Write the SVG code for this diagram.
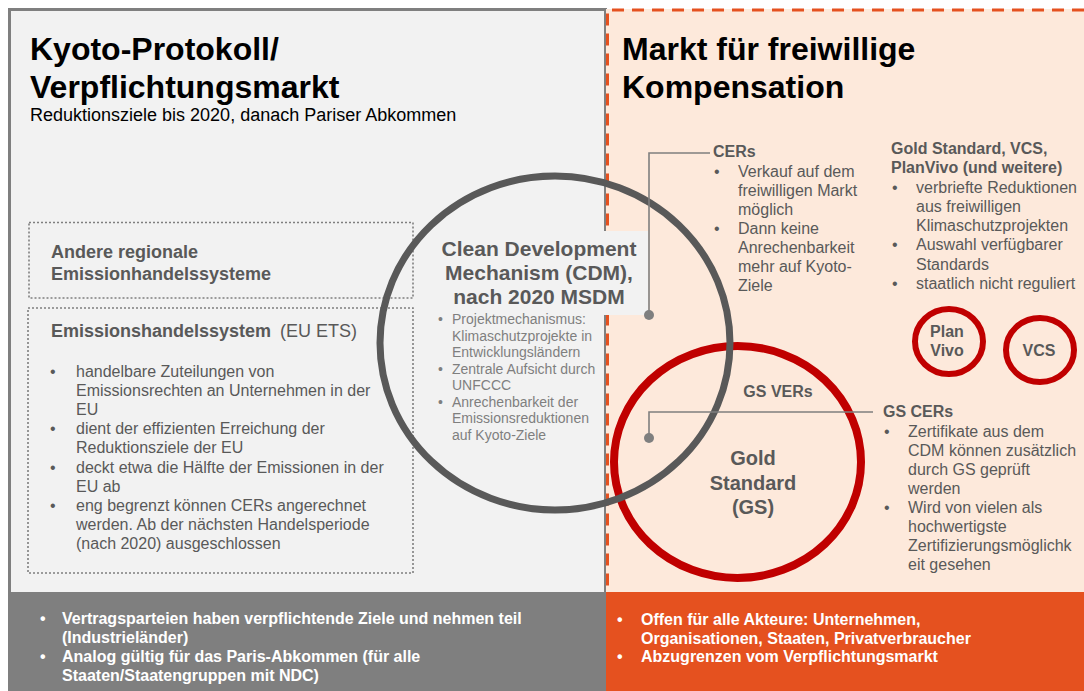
<svg xmlns="http://www.w3.org/2000/svg" width="1084" height="691" viewBox="0 0 1084 691">
  <style>
    text { font-family: "Liberation Sans", Arial, sans-serif; }
    .title { font-size: 32px; font-weight: bold; fill: #000; }
    .sub { font-size: 18px; fill: #000; }
    .boxhead { font-size: 18px; font-weight: bold; fill: #595959; }
    .body { font-size: 16px; fill: #595959; }
    .bold16 { font-size: 16px; font-weight: bold; fill: #595959; }
    .small { font-size: 14px; fill: #7f7f7f; }
    .cdm { font-size: 21px; font-weight: bold; fill: #595959; }
    .gs { font-size: 20px; font-weight: bold; fill: #595959; }
    .band { font-size: 16px; font-weight: bold; fill: #fff; }
    .dotted { fill: none; stroke: #7f7f7f; stroke-width: 1.6; stroke-dasharray: 2 2; }
    .lead { fill: none; stroke: #7f7f7f; stroke-width: 1.6; }
    .redring { fill: none; stroke: #c00000; }
  </style>

  <!-- Panel backgrounds -->
  <g id="panel-left">
    <rect x="9.5" y="9.5" width="596" height="584" fill="#f2f2f2" stroke="#7f7f7f" stroke-width="3"/>
  </g>
  <g id="panel-right">
    <rect x="606" y="9" width="478" height="584" fill="#fde9db"/>
    <path d="M1084 10 H607.5 V592" fill="none" stroke="#e5511f" stroke-width="3" stroke-dasharray="12 8"/>
  </g>

  <!-- Headings -->
  <g id="heading-left">
    <text class="title" x="30" y="60">Kyoto-Protokoll/</text>
    <text class="title" x="30" y="98">Verpflichtungsmarkt</text>
    <text class="sub" x="30" y="121">Reduktionsziele bis 2020, danach Pariser Abkommen</text>
  </g>
  <g id="heading-right">
    <text class="title" x="622" y="60">Markt für freiwillige</text>
    <text class="title" x="622" y="98">Kompensation</text>
  </g>

  <!-- Regional trading systems -->
  <g id="box-regional">
    <rect class="dotted" x="29" y="222.5" width="384" height="75.5"/>
    <text class="boxhead" x="51" y="258">Andere regionale</text>
    <text class="boxhead" x="51" y="280">Emissionhandelssysteme</text>
  </g>

  <!-- EU ETS -->
  <g id="box-euets">
    <rect class="dotted" x="28" y="308" width="385" height="265"/>
    <text class="boxhead" x="51" y="337">Emissionshandelssystem<tspan font-weight="normal" dx="4"> (EU ETS)</tspan></text>
    <g class="body">
      <text x="50" y="376.5">•</text>
      <text x="76" y="376.5">handelbare Zuteilungen von</text>
      <text x="76" y="395.7">Emissionsrechten an Unternehmen in der</text>
      <text x="76" y="414.9">EU</text>
      <text x="50" y="434.1">•</text>
      <text x="76" y="434.1">dient der effizienten Erreichung der</text>
      <text x="76" y="453.3">Reduktionsziele der EU</text>
      <text x="50" y="472.5">•</text>
      <text x="76" y="472.5">deckt etwa die Hälfte der Emissionen in der</text>
      <text x="76" y="491.7">EU ab</text>
      <text x="50" y="510.9">•</text>
      <text x="76" y="510.9">eng begrenzt können CERs angerechnet</text>
      <text x="76" y="530.1">werden. Ab der nächsten Handelsperiode</text>
      <text x="76" y="549.3">(nach 2020) ausgeschlossen</text>
    </g>
  </g>

  <!-- Gold Standard ring -->
  <g id="ring-gs">
    <ellipse class="redring" cx="737.5" cy="462" rx="123.5" ry="116" stroke-width="8"/>
    <text class="gs" x="753" y="465" text-anchor="middle">Gold</text>
    <text class="gs" x="753" y="490" text-anchor="middle">Standard</text>
    <text class="gs" x="753" y="514" text-anchor="middle">(GS)</text>
    <text class="bold16" x="778" y="397" text-anchor="middle">GS VERs</text>
  </g>

  <!-- CDM ring -->
  <g id="ring-cdm">
    <ellipse cx="555" cy="343" rx="175" ry="167" fill="none" stroke="#595959" stroke-width="7"/>
    <rect x="437" y="231" width="211" height="84" fill="#f2f2f2"/>
    <text class="cdm" x="539" y="256" text-anchor="middle">Clean Development</text>
    <text class="cdm" x="539" y="280" text-anchor="middle">Mechanism (CDM),</text>
    <text class="cdm" x="539" y="304" text-anchor="middle">nach 2020 MSDM</text>
    <g class="small">
      <text x="438" y="324">•</text>
      <text x="452" y="324">Projektmechanismus:</text>
      <text x="452" y="340.5">Klimaschutzprojekte in</text>
      <text x="452" y="357">Entwicklungsländern</text>
      <text x="438" y="373.5">•</text>
      <text x="452" y="373.5">Zentrale Aufsicht durch</text>
      <text x="452" y="390">UNFCCC</text>
      <text x="438" y="406.5">•</text>
      <text x="452" y="406.5">Anrechenbarkeit der</text>
      <text x="452" y="423">Emissionsreduktionen</text>
      <text x="452" y="439.5">auf Kyoto-Ziele</text>
    </g>
  </g>

  <!-- Plan Vivo and VCS rings -->
  <g id="ring-planvivo">
    <ellipse class="redring" cx="949" cy="341.5" rx="34" ry="32.5" stroke-width="6"/>
    <text class="bold16" x="947" y="337" text-anchor="middle">Plan</text>
    <text class="bold16" x="947" y="356" text-anchor="middle">Vivo</text>
  </g>
  <g id="ring-vcs">
    <ellipse class="redring" cx="1040" cy="350" rx="34" ry="32" stroke-width="6"/>
    <text class="bold16" x="1039" y="356" text-anchor="middle">VCS</text>
  </g>

  <!-- Voluntary market notes -->
  <g id="note-cers">
    <text class="bold16" x="713" y="157">CERs</text>
    <g class="body">
      <text x="714" y="177">•</text>
      <text x="738" y="177">Verkauf auf dem</text>
      <text x="738" y="196">freiwilligen Markt</text>
      <text x="738" y="215">möglich</text>
      <text x="714" y="234">•</text>
      <text x="738" y="234">Dann keine</text>
      <text x="738" y="253">Anrechenbarkeit</text>
      <text x="738" y="272">mehr auf Kyoto-</text>
      <text x="738" y="291">Ziele</text>
    </g>
  </g>
  <g id="note-standards">
    <text class="bold16" x="891" y="154">Gold Standard, VCS,</text>
    <text class="bold16" x="891" y="173">PlanVivo (und weitere)</text>
    <g class="body">
      <text x="892" y="193">•</text>
      <text x="916" y="193">verbriefte Reduktionen</text>
      <text x="916" y="212">aus freiwilligen</text>
      <text x="916" y="231">Klimaschutzprojekten</text>
      <text x="892" y="250">•</text>
      <text x="916" y="250">Auswahl verfügbarer</text>
      <text x="916" y="269.5">Standards</text>
      <text x="892" y="289">•</text>
      <text x="916" y="289">staatlich nicht reguliert</text>
    </g>
  </g>
  <g id="note-gscers">
    <text class="bold16" x="883" y="417">GS CERs</text>
    <g class="body">
      <text x="884" y="437">•</text>
      <text x="908" y="437">Zertifikate aus dem</text>
      <text x="908" y="456">CDM können zusätzlich</text>
      <text x="908" y="475">durch GS geprüft</text>
      <text x="908" y="494">werden</text>
      <text x="884" y="513">•</text>
      <text x="908" y="513">Wird von vielen als</text>
      <text x="908" y="532">hochwertigste</text>
      <text x="908" y="551">Zertifizierungsmöglichk</text>
      <text x="908" y="570">eit gesehen</text>
    </g>
  </g>

  <!-- Leader lines -->
  <g id="connectors">
    <path class="lead" d="M710 153 H649 V315"/>
    <circle cx="649" cy="315" r="5" fill="#7f7f7f"/>
    <path class="lead" d="M873 412 H649 V438"/>
    <circle cx="649" cy="438" r="5" fill="#7f7f7f"/>
  </g>

  <!-- Footer bands -->
  <g id="band-left">
    <rect x="8" y="592" width="598" height="99" fill="#7f7f7f"/>
    <g class="band">
      <text x="40" y="624">•</text>
      <text x="62" y="624">Vertragsparteien haben verpflichtende Ziele und nehmen teil</text>
      <text x="62" y="643">(Industrieländer)</text>
      <text x="40" y="662">•</text>
      <text x="62" y="662">Analog gültig für das Paris-Abkommen (für alle</text>
      <text x="62" y="681">Staaten/Staatengruppen mit NDC)</text>
    </g>
  </g>
  <g id="band-right">
    <rect x="606" y="592" width="478" height="99" fill="#e5511f"/>
    <g class="band">
      <text x="617" y="625">•</text>
      <text x="641" y="625">Offen für alle Akteure: Unternehmen,</text>
      <text x="641" y="643.5">Organisationen, Staaten, Privatverbraucher</text>
      <text x="617" y="662">•</text>
      <text x="641" y="662">Abzugrenzen vom Verpflichtungsmarkt</text>
    </g>
  </g>
</svg>
